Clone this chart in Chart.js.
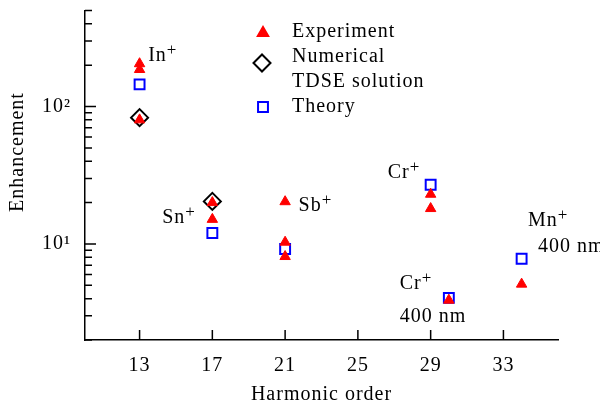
<!DOCTYPE html>
<html>
<head>
<meta charset="utf-8">
<script src="https://cdn.jsdelivr.net/npm/chart.js@4"></script>
<style>
  html, body { margin: 0; padding: 0; background: #fff; }
</style>
</head>
<body>
<canvas id="enhChart" width="600" height="407"></canvas>
<script>
// harmonic order / enhancement factor
const expOrder = [13, 13, 13, 17, 17, 21, 21, 21, 29, 29, 30, 34];
const expValue = [205, 186, 80, 20, 15.1, 20.3, 10.3, 8.1, 23, 18.1, 3.9, 5.1];

const tdseOrder = [13, 17];
const tdseValue = [83, 20.4];

const theoryOrder = [13, 17, 21, 29, 30, 34];
const theoryValue = [145, 12, 9.2, 27, 4.05, 7.8];

const xTicks = [13, 17, 21, 25, 29, 33];
const yTicks = [2, 3, 4, 5, 6, 7, 8, 9, 10, 20, 30, 40, 50, 60, 70, 80, 90, 100, 200, 300, 400, 500];
const yMajor = [10, 100];
const yTickText = { 10: '10\u00B9', 100: '10\u00B2' };

// ion names (with a "+" superscript) and wavelength notes, anchored in data units
const ionNames = ['In', 'Sn', 'Sb', 'Cr', 'Mn', 'Cr'];
const ionAtX = [13.47, 14.24, 21.74, 26.64, 34.35, 27.3];
const ionAtY = [216, 14.2, 17.3, 30.0, 13.4, 4.69];
const noteText = ['400 nm', '400 nm'];
const noteAtX = [34.9, 27.3];
const noteAtY = [8.7, 2.71];

const serif = '"Liberation Serif", "Times New Roman", serif';

function toPoints(xs, ys) {
  return xs.map((v, i) => ({ x: v, y: ys[i] }));
}

function marker(ctx, style, radius, fill, stroke, x, y) {
  ctx.fillStyle = fill;
  ctx.strokeStyle = stroke;
  ctx.lineWidth = 2;
  Chart.helpers.drawPoint(ctx, { pointStyle: style, radius: radius, rotation: 0, borderWidth: 2 }, x, y);
}

function ionText(ctx, name, px, py) {
  ctx.font = '20px ' + serif;
  ctx.fillText(name, px, py);
  const w = ctx.measureText(name).width;
  ctx.font = '17px ' + serif;
  ctx.fillText('+', px + w, py - 6);
}

// slightly wider text, used for every label on the canvas
const spacing = {
  id: 'spacing',
  beforeUpdate(chart) { chart.ctx.letterSpacing = '1px'; },
  beforeDraw(chart) { chart.ctx.letterSpacing = '1px'; }
};

const extras = {
  id: 'extras',
  afterDraw(chart) {
    const { ctx, chartArea: a, scales: { x, y } } = chart;
    ctx.save();

    // inward tick marks
    ctx.strokeStyle = '#000';
    ctx.lineWidth = 1.5;
    ctx.beginPath();
    yTicks.forEach(v => {
      const py = y.getPixelForValue(v);
      const len = yMajor.includes(v) ? 11 : 7;
      ctx.moveTo(a.left, py);
      ctx.lineTo(a.left + len, py);
    });
    xTicks.forEach(v => {
      const px = x.getPixelForValue(v);
      ctx.moveTo(px, a.bottom);
      ctx.lineTo(px, a.bottom - 10);
    });
    ctx.stroke();

    // labels beside the points
    ctx.fillStyle = '#000';
    ctx.textAlign = 'left';
    ctx.textBaseline = 'alphabetic';
    ionNames.forEach((n, i) => {
      ionText(ctx, n, x.getPixelForValue(ionAtX[i]), y.getPixelForValue(ionAtY[i]));
    });
    ctx.font = '20px ' + serif;
    noteText.forEach((t, i) => {
      ctx.fillText(t, x.getPixelForValue(noteAtX[i]), y.getPixelForValue(noteAtY[i]));
    });

    // y axis title
    ctx.save();
    ctx.translate(18, 152);
    ctx.rotate(-Math.PI / 2);
    ctx.textAlign = 'center';
    ctx.textBaseline = 'middle';
    ctx.font = '20px ' + serif;
    ctx.fillText('Enhancement', 0, 0);
    ctx.restore();

    // legend
    marker(ctx, 'triangle', 6, '#ff0000', '#ff0000', 263, 33);
    marker(ctx, 'rectRot', 8.5, 'rgba(0,0,0,0)', '#000', 262, 63);
    marker(ctx, 'rect', 7, 'rgba(0,0,0,0)', '#0000ff', 263, 107);
    ctx.fillStyle = '#000';
    ctx.font = '20px ' + serif;
    ctx.textAlign = 'left';
    ctx.textBaseline = 'alphabetic';
    ctx.fillText('Experiment', 292, 37);
    ctx.fillText('Numerical', 292, 62);
    ctx.fillText('TDSE solution', 292, 87);
    ctx.fillText('Theory', 292, 112);

    ctx.restore();
  }
};

new Chart(document.getElementById('enhChart'), {
  type: 'scatter',
  data: {
    datasets: [
      {
        label: 'Experiment',
        data: toPoints(expOrder, expValue),
        pointStyle: 'triangle',
        pointRadius: 6,
        backgroundColor: '#ff0000',
        borderColor: '#ff0000',
        borderWidth: 1
      },
      {
        label: 'Theory',
        data: toPoints(theoryOrder, theoryValue),
        pointStyle: 'rect',
        pointRadius: 7,
        backgroundColor: 'rgba(0,0,0,0)',
        borderColor: '#0000ff',
        borderWidth: 2
      },
      {
        label: 'Numerical TDSE solution',
        data: toPoints(tdseOrder, tdseValue),
        pointStyle: 'rectRot',
        pointRadius: 8.5,
        backgroundColor: 'rgba(0,0,0,0)',
        borderColor: '#000000',
        borderWidth: 2
      }
    ]
  },
  options: {
    responsive: false,
    animation: false,
    devicePixelRatio: 1,
    layout: { padding: { top: 7, right: 42, left: 0, bottom: 0 } },
    plugins: {
      legend: { display: false },
      tooltip: { enabled: false }
    },
    scales: {
      x: {
        type: 'linear',
        min: 10,
        max: 36,
        afterBuildTicks: s => { s.ticks = xTicks.map(v => ({ value: v })); },
        afterFit: s => { s.height = 67; s.paddingLeft = 0; s.paddingRight = 0; },
        grid: { display: false, drawTicks: false },
        border: { color: '#000', width: 1.5 },
        ticks: {
          color: '#000',
          font: { family: serif, size: 20 },
          padding: 14,
          autoSkip: false,
          maxRotation: 0
        },
        title: {
          display: true,
          text: 'Harmonic order',
          color: '#000',
          font: { family: serif, size: 20 },
          padding: { top: 0, bottom: 0 }
        }
      },
      y: {
        type: 'logarithmic',
        min: 2,
        max: 500,
        afterBuildTicks: s => { s.ticks = yTicks.map(v => ({ value: v })); },
        afterFit: s => { s.width = 85; s.paddingTop = 0; s.paddingBottom = 0; },
        grid: { display: false, drawTicks: false },
        border: { color: '#000', width: 1.5 },
        ticks: {
          color: '#000',
          font: { family: serif, size: 20 },
          padding: 14,
          autoSkip: false,
          callback: v => yTickText[v] || ''
        }
      }
    }
  },
  plugins: [spacing, extras]
});
</script>
</body>
</html>
